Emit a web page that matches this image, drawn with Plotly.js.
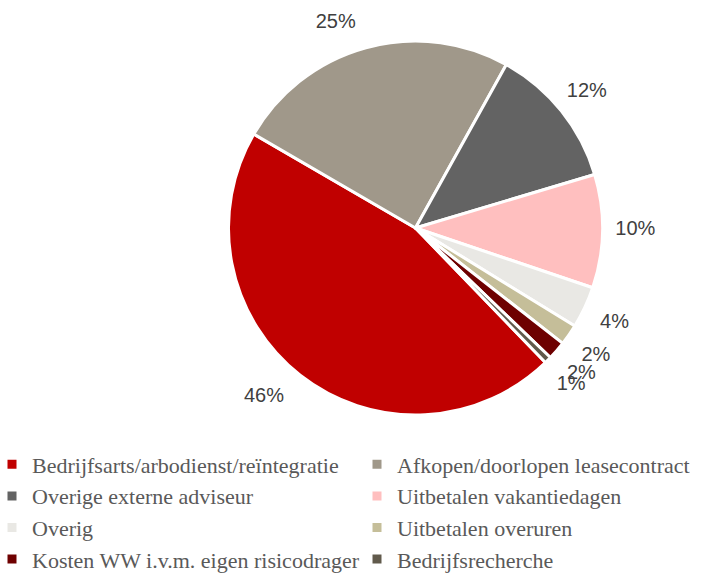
<!DOCTYPE html>
<html>
<head>
<meta charset="utf-8">
<script src="https://cdn.plot.ly/plotly-3.0.1.min.js"></script>
<style>html,body{margin:0;padding:0;background:#fff;}#chart{width:727px;height:574px;}</style>
</head>
<body>
<div id="chart"></div>
<script>
const categories = [
  "Bedrijfsarts/arbodienst/reïntegratie",
  "Afkopen/doorlopen leasecontract",
  "Overige externe adviseur",
  "Uitbetalen vakantiedagen",
  "Overig",
  "Uitbetalen overuren",
  "Kosten WW i.v.m. eigen risicodrager",
  "Bedrijfsrecherche"
];
const shares = [45.6, 24.7, 12.3, 9.8, 3.6, 1.8, 1.6, 0.6];
const colors = ["#C00000", "#A0988A", "#636363", "#FFBFBF", "#E9E8E4", "#C5BE99", "#6E0000", "#615A4C"];
// where each slice's percentage label is drawn
const outerLabelPos = ["outside", "outside", "none", "none", "none", "none", "none", "none"];
const ringLabelPos = ["none", "none", "inside", "inside", "inside", "inside", "inside", "inside"];

const W = 727, H = 574, MB = 125;
const PH = H - MB;
const cx = 415.5, cy = 228, R = 187, RL = 221, RO = 204;
const labelFont = { family: "Liberation Sans, Arial, sans-serif", size: 20, color: "#404040" };
const clear = categories.map(() => "rgba(0,0,0,0)");

function dom(r) {
  return { x: [(cx - r) / W, (cx + r) / W], y: [1 - (cy + r) / PH, 1 - (cy - r) / PH] };
}

const pieTrace = {
  type: "pie",
  labels: categories,
  values: shares,
  sort: false,
  direction: "clockwise",
  rotation: 136,
  marker: { colors: colors, line: { color: "#FFFFFF", width: 3 } },
  textinfo: "none",
  hoverinfo: "label+percent",
  domain: dom(R),
  showlegend: true
};

const outerLabelTrace = {
  type: "pie",
  labels: categories,
  values: shares,
  sort: false,
  direction: "clockwise",
  rotation: 136,
  marker: { colors: clear, line: { width: 0 } },
  texttemplate: "%{percent:.0%}",
  textposition: outerLabelPos,
  textfont: labelFont,
  outsidetextfont: labelFont,
  hoverinfo: "skip",
  domain: dom(RO),
  showlegend: false
};

const ringLabelTrace = {
  type: "pie",
  labels: categories,
  values: shares,
  sort: false,
  direction: "clockwise",
  rotation: 136,
  hole: 0.99,
  marker: { colors: clear, line: { width: 0 } },
  texttemplate: "%{percent:.0%}",
  textposition: ringLabelPos,
  insidetextorientation: "horizontal",
  textfont: labelFont,
  hoverinfo: "skip",
  domain: dom(RL),
  showlegend: false
};

const layout = {
  width: W, height: H,
  margin: { l: 0, r: 0, t: 0, b: MB, autoexpand: false },
  paper_bgcolor: "#FFFFFF",
  plot_bgcolor: "#FFFFFF",
  uniformtext: { mode: "show", minsize: 20 },
  showlegend: true,
  legend: {
    orientation: "h",
    x: -8 / W, xanchor: "left",
    y: -63 / PH, yanchor: "middle",
    entrywidth: 320, entrywidthmode: "pixels",
    traceorder: "normal",
    bgcolor: "rgba(0,0,0,0)",
    font: { family: "Liberation Serif, DejaVu Serif, serif", size: 22, color: "#595959" }
  }
};

Plotly.newPlot("chart", [pieTrace, outerLabelTrace, ringLabelTrace], layout, { displayModeBar: false, staticPlot: true });
</script>
</body>
</html>
